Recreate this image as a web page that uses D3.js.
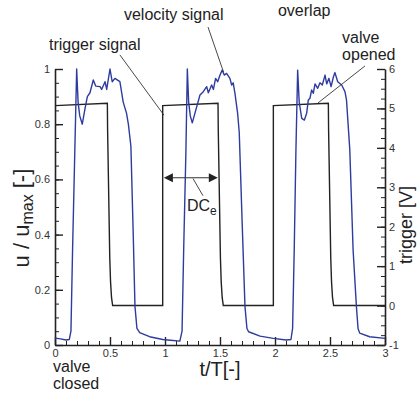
<!DOCTYPE html>
<html><head><meta charset="utf-8">
<script src="https://cdn.jsdelivr.net/npm/d3@7"></script>
<style>body{margin:0;background:#fff} text{font-family:"Liberation Sans",Arial,sans-serif}</style>
</head><body><svg id="c" width="418" height="396"></svg>
<script>
// ---- data ----
const timeVel = [0,0.05,0.10,0.13,0.145,0.16,0.18,0.197,0.21,0.225,0.248,0.27,0.294,0.318,0.348,0.37,0.41,0.424,0.455,0.47,0.50,0.52,0.545,0.59,0.62,0.65,0.667,0.69,0.71,0.727,0.745,0.77,0.86,0.98,1.05,1.135,
 1.155,1.17,1.19,1.203,1.215,1.23,1.248,1.288,1.318,1.348,1.379,1.394,1.424,1.44,1.46,1.479,1.50,1.52,1.539,1.56,1.59,1.606,1.62,1.636,1.66,1.675,1.70,1.727,1.745,1.76,1.864,1.985,2.10,2.145,
 2.16,2.175,2.19,2.206,2.22,2.243,2.267,2.288,2.303,2.318,2.333,2.348,2.364,2.388,2.409,2.43,2.455,2.47,2.49,2.51,2.53,2.545,2.57,2.606,2.636,2.65,2.68,2.71,2.74,2.755,2.77,2.86,3.0];
const velocity = [0.025,0.022,0.018,0.02,0.05,0.35,0.70,1.0,0.88,0.83,0.80,0.85,0.90,0.914,0.96,0.938,0.936,0.926,0.954,0.926,1.0,0.954,0.966,0.954,0.88,0.84,0.80,0.72,0.42,0.14,0.06,0.045,0.03,0.02,0.017,0.014,
 0.05,0.35,0.70,1.0,0.88,0.83,0.805,0.863,0.906,0.918,0.936,0.914,0.942,0.926,0.966,0.954,0.978,0.996,0.978,0.984,0.966,0.942,0.95,0.912,0.84,0.77,0.46,0.14,0.06,0.048,0.032,0.024,0.018,0.02,
 0.06,0.35,0.70,0.996,0.88,0.821,0.815,0.84,0.888,0.894,0.924,0.912,0.946,0.93,0.95,0.942,0.978,0.946,0.966,0.936,0.97,0.987,0.954,0.942,0.918,0.888,0.707,0.344,0.14,0.06,0.043,0.03,0.024];
const timeTrig = [0,0.476,0.478,0.498,0.505,0.514,0.524,0.979,0.979,1.482,1.484,1.504,1.511,1.520,1.530,1.985,1.985,2.485,2.487,2.507,2.514,2.523,2.533,3.0];
const triggerV = [5.07,5.13,4.5,1.2,0.6,0.2,0,0,5.07,5.13,4.5,1.2,0.6,0.2,0,0,5.07,5.13,4.5,1.2,0.6,0.2,0,0];
const xTicks = [0,0.5,1,1.5,2,2.5,3];
const xTickLabels = ["0","0.5","1","1.5","2","2.5","3"];
const uTicks = [0,0.2,0.4,0.6,0.8,1];
const uTickLabels = ["0","0.2","0.4","0.6","0.8","1"];
const vTicks = [-1,0,1,2,3,4,5,6];
const vTickLabels = ["-1","0","1","2","3","4","5","6"];

// ---- layout ----
const svg = d3.select("#c");
const L = 55, R = 385, T = 69, B = 345;
const x = d3.scaleLinear().domain([0,3]).range([L,R]);
const y = d3.scaleLinear().domain([0,1]).range([B,T]);
const yR = d3.scaleLinear().domain([-1,6]).range([B,T]);
const ink = "#222", tickCol = "#333";

// minor ticks
function minor(axis, g){ g.call(axis); g.selectAll("text").remove(); g.select(".domain").remove(); g.selectAll("line").attr("stroke",ink).attr("stroke-width",1); }
svg.append("g").attr("transform",`translate(${L},0)`).call(g=>minor(d3.axisLeft(y).tickValues(d3.range(0,1.001,0.05)).tickSizeInner(-4).tickSizeOuter(0),g));
svg.append("g").attr("transform",`translate(0,${B})`).call(g=>minor(d3.axisBottom(x).tickValues(d3.range(0,3.001,0.1)).tickSizeInner(-4).tickSizeOuter(0),g));
svg.append("g").attr("transform",`translate(${R},0)`).call(g=>minor(d3.axisRight(yR).tickValues(d3.range(-1,6.001,0.25)).tickSizeInner(-4).tickSizeOuter(0),g));

function styleAxis(g){
  g.select(".domain").attr("stroke",ink).attr("stroke-width",1.6);
  g.selectAll(".tick line").attr("stroke",ink).attr("stroke-width",1.4);
  g.selectAll("text").attr("font-size",11).attr("fill",tickCol).attr("font-family","Liberation Sans, Arial, sans-serif");
}
svg.append("g").attr("transform",`translate(${L},0)`)
  .call(d3.axisLeft(y).tickValues(uTicks).tickFormat((d,i)=>uTickLabels[i]).tickSizeInner(-8).tickSizeOuter(0).tickPadding(5)).call(styleAxis);
svg.append("g").attr("transform",`translate(0,${B})`)
  .call(d3.axisBottom(x).tickValues(xTicks).tickFormat((d,i)=>xTickLabels[i]).tickSizeInner(-8).tickSizeOuter(0).tickPadding(4)).call(styleAxis);
svg.append("g").attr("transform",`translate(${R},0)`)
  .call(d3.axisRight(yR).tickValues(vTicks).tickFormat((d,i)=>vTickLabels[i]).tickSizeInner(-8).tickSizeOuter(0).tickPadding(4)).call(styleAxis);

// ---- series ----
const trigLine = d3.line().x((d,i)=>x(timeTrig[i])).y(d=>yR(d));
svg.append("path").attr("d",trigLine(triggerV)).attr("fill","none").attr("stroke",ink).attr("stroke-width",1.4);
const velLine = d3.line().x((d,i)=>x(timeVel[i])).y(d=>y(d));
svg.append("path").attr("d",velLine(velocity)).attr("fill","none").attr("stroke","#2d3c9e").attr("stroke-width",1.4).attr("stroke-linejoin","round");

// ---- annotations (in data coordinates t, u) ----
const fs = 16;
function label(txt,t,u,anchor){ return svg.append("text").attr("x",x(t)).attr("y",y(u)).attr("font-size",fs).attr("fill",ink).attr("text-anchor",anchor||"start").text(txt); }
function leader(t1,u1,t2,u2){ svg.append("line").attr("x1",x(t1)).attr("y1",y(u1)).attr("x2",x(t2)).attr("y2",y(u2)).attr("stroke","#333").attr("stroke-width",0.9); }

label("trigger signal",-0.055,1.069);
leader(0.59,1.051,0.99,0.833);
label("velocity signal",0.627,1.177);
leader(1.391,1.152,1.532,0.989);
label("overlap",2.027,1.192);
label("valve",2.61,1.094);
label("opened",2.61,1.032);
leader(2.818,1.011,2.391,0.877);
label("valve",-0.018,-0.098);
label("closed",-0.018,-0.16);

// DCe arrow
const arrowT0 = 0.99, arrowT1 = 1.48, arrowU = 0.606;
const ay = y(arrowU);
svg.append("line").attr("x1",x(arrowT0)+7).attr("x2",x(arrowT1)-7).attr("y1",ay).attr("y2",ay).attr("stroke","#333").attr("stroke-width",1.1);
svg.append("path").attr("d",`M${x(arrowT0)},${ay}l9,-4.5v9z`).attr("fill","#222");
svg.append("path").attr("d",`M${x(arrowT1)},${ay}l-9,-4.5v9z`).attr("fill","#222");
leader(1.255,0.603,1.345,0.541);
const dc = label("",1.2,0.486);
dc.append("tspan").text("DC");
dc.append("tspan").attr("font-size",12).attr("dy",4).text("e");

// axis titles
svg.append("text").attr("x",x(1.5)).attr("y",376).attr("text-anchor","middle").attr("font-size",20).attr("fill",ink).text("t/T[-]");
const yl = svg.append("text").attr("transform",`translate(29,${y(0.46)}) rotate(-90)`).attr("text-anchor","middle").attr("font-size",22).attr("fill",ink);
yl.append("tspan").text("u / u");
yl.append("tspan").attr("font-size",16).attr("dy",4).text("max");
yl.append("tspan").attr("dy",-4).text(" [-]");
svg.append("text").attr("transform",`translate(412,${y(0.435)}) rotate(-90)`).attr("text-anchor","middle").attr("font-size",18).attr("fill",ink).text("trigger [V]");
</script></body></html>
